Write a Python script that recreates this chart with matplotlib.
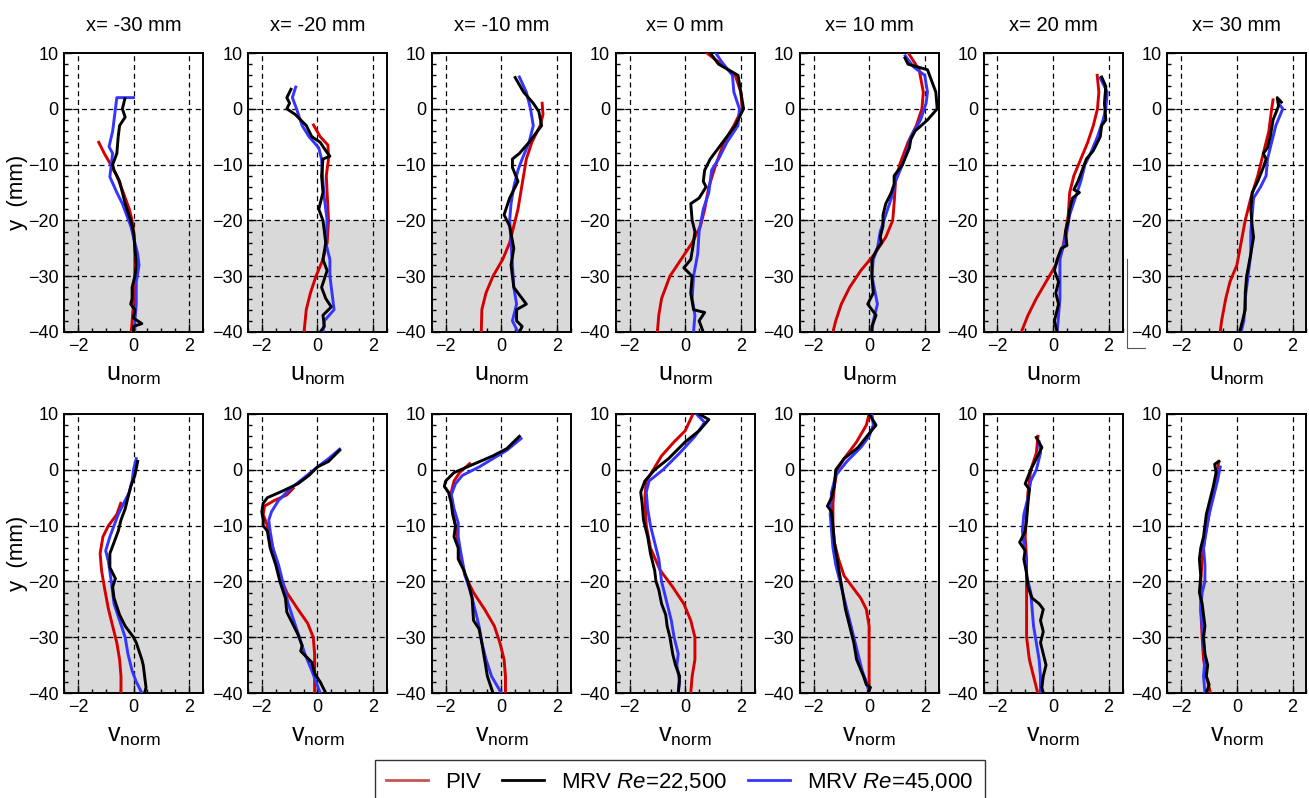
import numpy as np
import matplotlib.pyplot as plt
from matplotlib.lines import Line2D

plt.rcParams['font.family'] = ['Liberation Sans', 'DejaVu Sans']
plt.rcParams['mathtext.fontset'] = 'custom'
plt.rcParams['mathtext.rm'] = 'Liberation Sans'
plt.rcParams['mathtext.it'] = 'Liberation Sans:italic'
plt.rcParams['mathtext.default'] = 'regular'

# =============================================================================
# Profiles, as (value, y [mm]) pairs
# =============================================================================
stations = ['x= -30 mm', 'x= -20 mm', 'x= -10 mm', 'x= 0 mm', 'x= 10 mm', 'x= 20 mm', 'x= 30 mm']

# ---- u_norm ----
u_m30_piv = [(-1.25, -6), (-1.05, -8), (-0.82, -10), (-0.6, -12), (-0.37, -15), (-0.15, -18), (-0.05, -20),
             (0.03, -23), (0.05, -26), (0.05, -30), (0.0, -35), (-0.08, -40)]
u_m30_mrv1 = [(-0.31, 1.8), (-0.4, 0), (-0.3, -1.5), (-0.5, -3), (-0.55, -5), (-0.6, -8), (-0.75, -10), (-0.7, -11),
              (-0.5, -13), (-0.4, -15), (-0.3, -17), (-0.1, -20), (0.0, -22), (0.05, -25), (0.1, -28), (0.05, -30),
              (-0.05, -32), (-0.05, -34), (-0.1, -35), (0.05, -36), (0.0, -37.5), (0.3, -38.5), (0.0, -39), (0.0, -40)]
u_m30_mrv2 = [(0.0, 2), (-0.6, 2), (-0.65, 0), (-0.75, -4), (-0.88, -6.8), (-0.75, -8), (-0.8, -10), (-0.85, -12.2),
              (-0.6, -15), (-0.4, -17), (-0.25, -19), (-0.1, -21), (0.05, -24), (0.15, -26), (0.2, -28), (0.1, -31),
              (0.1, -35), (0.05, -38), (0.05, -40)]

u_m20_piv = [(-0.14, -2.9), (0.1, -5), (0.38, -6.5), (0.4, -9), (0.32, -12), (0.35, -15), (0.4, -20), (0.35, -24),
             (0.2, -27), (-0.05, -30), (-0.25, -33), (-0.4, -36), (-0.48, -40)]
u_m20_mrv1 = [(-0.95, 3.5), (-1.1, 2), (-1.0, 1), (-1.1, 0), (-0.8, -1), (-0.4, -3), (-0.2, -5), (0.1, -6), (0.3, -7.5),
              (0.45, -8.5), (0.2, -9), (0.15, -12), (0.2, -15), (0.05, -18), (0.2, -20), (0.3, -24), (0.2, -27),
              (0.35, -29), (0.15, -32), (0.3, -34), (0.5, -35.5), (0.2, -37), (0.25, -39), (0.1, -40)]
u_m20_mrv2 = [(-0.78, 3.9), (-0.9, 2), (-0.75, 0), (-0.55, -3), (-0.3, -5), (0.05, -7), (0.15, -9), (0.2, -13),
              (0.25, -16), (0.35, -20), (0.3, -24), (0.45, -27), (0.45, -30), (0.5, -32), (0.6, -36), (0.25, -38),
              (0.2, -40)]

u_m10_piv = [(1.47, 1), (1.5, -1), (1.4, -3), (1.1, -6), (0.9, -9), (0.8, -12), (0.7, -15), (0.6, -18), (0.45, -21),
             (0.3, -24), (0.05, -27), (-0.3, -30), (-0.55, -33), (-0.7, -36), (-0.72, -40)]
u_m10_mrv1 = [(0.5, 5.6), (0.8, 3), (1.15, 1), (1.35, -0.5), (1.45, -3), (1.0, -6), (0.65, -8), (0.4, -9), (0.4, -10.5),
              (0.6, -13), (0.3, -16), (0.1, -19), (0.3, -21), (0.45, -25), (0.35, -28), (0.45, -32), (0.9, -35),
              (0.55, -36), (0.55, -38), (0.75, -39), (0.65, -40)]
u_m10_mrv2 = [(0.65, 5.7), (0.9, 3), (1.05, 0), (1.15, -3), (1.0, -6), (0.75, -9), (0.6, -11), (0.45, -14),
              (0.35, -17), (0.3, -20), (0.35, -24), (0.4, -28), (0.45, -32), (0.55, -35), (0.4, -38), (0.6, -40)]

u_0_piv = [(0.78, 10), (1.3, 8), (1.8, 6), (2.0, 3), (2.05, 0), (1.75, -3), (1.4, -6), (1.1, -10), (0.85, -14),
           (0.7, -18), (0.55, -21), (0.25, -24), (-0.15, -27), (-0.55, -30), (-0.85, -34), (-0.95, -37), (-1.0, -40)]
u_0_mrv1 = [(0.9, 10), (1.2, 8), (1.9, 6), (2.0, 3), (2.1, 0), (1.8, -3), (1.5, -5), (1.2, -7), (0.9, -9), (0.7, -11),
            (0.65, -13), (0.75, -14), (0.5, -16), (0.2, -17), (0.25, -20), (0.35, -22), (0.3, -24), (0.2, -27),
            (-0.05, -28.5), (0.25, -30), (0.2, -33), (0.3, -36), (0.7, -36.5), (0.5, -38), (0.65, -40)]
u_0_mrv2 = [(1.1, 10), (1.3, 8.5), (1.7, 6), (1.75, 3), (1.95, 0), (1.9, -3), (1.5, -6), (1.2, -9), (0.95, -11),
            (0.85, -15), (0.65, -18), (0.5, -22), (0.45, -26), (0.3, -30), (0.25, -34), (0.35, -37), (0.3, -40)]

u_10_piv = [(1.41, 10), (1.8, 7), (1.95, 3), (1.9, 0), (1.7, -3), (1.4, -6), (1.1, -10), (0.95, -13), (0.9, -17),
            (0.85, -20), (0.6, -23), (0.2, -26), (-0.3, -29), (-0.7, -32), (-1.0, -35), (-1.2, -38), (-1.3, -40)]
u_10_mrv1 = [(1.29, 9.1), (1.4, 8), (2.1, 7), (2.4, 3), (2.45, 0), (2.1, -2), (1.65, -4), (1.5, -5.5), (1.45, -7),
             (1.2, -10), (0.9, -12), (0.9, -13.5), (0.8, -15), (0.6, -17), (0.5, -19), (0.5, -21), (0.4, -23),
             (0.45, -24), (0.3, -25), (0.1, -27), (0.1, -30), (0.15, -33), (-0.05, -35), (0.25, -37), (0.1, -39),
             (0.1, -40)]
u_10_mrv2 = [(1.3, 9.5), (1.6, 7.5), (2.0, 6), (2.1, 3), (2.05, 1), (1.85, -2), (1.5, -5), (1.4, -7), (1.2, -10),
             (0.95, -13), (0.8, -16), (0.6, -19), (0.4, -22), (0.3, -25), (0.15, -27), (0.1, -30), (0.3, -35),
             (0.15, -38), (0.1, -40)]

u_20_piv = [(1.59, 6), (1.65, 3), (1.6, 0), (1.45, -3), (1.25, -6), (1.0, -9), (0.75, -12), (0.6, -15), (0.55, -19),
            (0.45, -22), (0.35, -25), (0.1, -28), (-0.25, -31), (-0.6, -34), (-0.9, -37), (-1.14, -40)]
u_20_mrv1 = [(1.75, 5.7), (1.9, 4), (1.85, 1), (1.9, -2), (1.75, -3), (1.7, -5), (1.55, -6.5), (1.45, -7.5),
             (1.2, -9), (1.05, -11), (0.9, -13), (0.75, -14.5), (0.95, -15), (0.7, -16), (0.6, -18), (0.55, -20),
             (0.45, -22), (0.5, -24.5), (0.3, -25), (0.15, -27), (0.05, -29), (0.2, -31), (0.1, -33), (0.2, -35),
             (0.05, -38), (0.15, -40)]
u_20_mrv2 = [(1.7, 5.5), (1.95, 3), (1.9, 0), (1.8, -2), (1.6, -5), (1.35, -8), (1.15, -10), (1.0, -13), (0.8, -16),
             (0.6, -19), (0.5, -22), (0.35, -25), (0.25, -27), (0.25, -30), (0.25, -34), (0.2, -37), (0.15, -40)]

u_30_piv = [(1.3, 1.6), (1.25, 0), (1.15, -4), (0.95, -8), (0.75, -12), (0.5, -16), (0.3, -20), (0.15, -24),
            (0.0, -28), (-0.25, -31), (-0.4, -34), (-0.55, -38), (-0.6, -40)]
u_30_mrv1 = [(1.6, 1.2), (1.45, 2), (1.5, 0.5), (1.3, -2), (1.2, -5), (1.1, -7), (0.95, -8), (1.05, -9),
             (0.95, -10.5), (0.75, -13), (0.55, -15), (0.5, -18), (0.55, -21), (0.6, -23), (0.5, -26), (0.35, -30),
             (0.3, -33), (0.3, -36), (0.2, -38), (0.1, -40)]
u_30_mrv2 = [(1.5, 1), (1.65, 0), (1.4, -3), (1.2, -7), (1.1, -9), (1.05, -12), (0.85, -14), (0.6, -16), (0.55, -19),
             (0.5, -22), (0.5, -26), (0.4, -30), (0.3, -34), (0.25, -38), (0.15, -40)]

# ---- v_norm ----
v_m30_piv = [(-0.46, -6), (-0.6, -8), (-0.9, -10), (-1.1, -12), (-1.2, -15), (-1.15, -18), (-1.05, -21), (-0.9, -25),
             (-0.75, -28), (-0.6, -31), (-0.5, -34), (-0.45, -37), (-0.45, -40)]
v_m30_mrv1 = [(0.15, 1.5), (0.05, -1), (-0.1, -3), (-0.2, -5), (-0.3, -7), (-0.45, -9), (-0.55, -11), (-0.7, -13),
              (-0.85, -15), (-0.85, -17.5), (-0.65, -19.5), (-0.75, -21), (-0.7, -23), (-0.5, -26), (-0.3, -28),
              (0.0, -30), (0.1, -31), (0.3, -34), (0.35, -35), (0.4, -37), (0.45, -39), (0.4, -40)]
v_m30_mrv2 = [(0.1, 2), (0.0, 0), (-0.05, -2), (-0.15, -4), (-0.35, -6), (-0.55, -8), (-0.7, -10), (-0.85, -12),
              (-1.0, -14.5), (-0.9, -16.5), (-0.8, -20), (-0.7, -24), (-0.5, -27), (-0.3, -30), (-0.2, -33),
              (-0.05, -36), (0.1, -38), (0.3, -40)]

v_m20_piv = [(-0.87, -3.3), (-1.1, -4.5), (-1.55, -5.5), (-1.9, -6.5), (-1.95, -8), (-1.8, -10), (-1.65, -13),
             (-1.5, -16), (-1.35, -19), (-1.1, -22), (-0.7, -25), (-0.35, -27.5), (-0.15, -30), (-0.1, -33),
             (-0.1, -37), (-0.1, -40)]
v_m20_mrv1 = [(0.8, 3.5), (0.4, 1.5), (0.0, 0.5), (-0.3, -1), (-0.7, -2.5), (-1.25, -3.8), (-1.8, -5), (-1.95, -6),
              (-2.0, -7.5), (-1.95, -9), (-1.95, -10), (-1.8, -11), (-1.7, -14), (-1.5, -17), (-1.35, -20),
              (-1.15, -23), (-1.1, -25.5), (-0.9, -27.5), (-0.7, -29.5), (-0.55, -31.5), (-0.6, -32.5), (-0.4, -33.5),
              (-0.2, -34.5), (-0.1, -36.5), (0.1, -38), (0.3, -40)]
v_m20_mrv2 = [(0.8, 3.7), (0.4, 2), (0.0, 0.5), (-0.5, -1.5), (-1.0, -3.5), (-1.4, -5.5), (-1.65, -7.5), (-1.75, -9),
              (-1.7, -11), (-1.6, -14), (-1.4, -17), (-1.25, -20), (-1.05, -24), (-0.85, -27), (-0.65, -30),
              (-0.45, -33), (-0.2, -36), (0.1, -40)]

v_m10_piv = [(-1.14, 1.1), (-1.5, -0.5), (-1.7, -2), (-1.8, -4), (-1.75, -7), (-1.65, -10), (-1.55, -13),
             (-1.45, -16), (-1.3, -19), (-1.0, -22), (-0.6, -25), (-0.25, -28), (-0.05, -31), (0.1, -34),
             (0.15, -37), (0.15, -40)]
v_m10_mrv1 = [(0.65, 6), (0.2, 3.8), (-0.3, 2.5), (-1.0, 1), (-1.7, -0.5), (-2.0, -2), (-2.05, -3), (-1.9, -4),
              (-1.8, -6), (-1.75, -8), (-1.65, -10), (-1.7, -12), (-1.55, -14), (-1.55, -16), (-1.35, -18),
              (-1.2, -20), (-1.05, -23), (-1.0, -27), (-0.8, -28.5), (-0.7, -31), (-0.6, -34), (-0.5, -37),
              (-0.3, -40)]
v_m10_mrv2 = [(0.71, 5.6), (0.2, 3.5), (-0.3, 2), (-0.8, 0.5), (-1.4, -1), (-1.65, -2.5), (-1.8, -4.5), (-1.7, -7),
              (-1.55, -9.5), (-1.55, -12), (-1.45, -15), (-1.3, -19), (-1.1, -22), (-0.95, -25), (-0.8, -28),
              (-0.7, -31), (-0.55, -34), (-0.35, -37), (0.0, -40)]

v_0_piv = [(0.28, 10), (0.0, 7), (-0.4, 5), (-0.85, 2.5), (-1.15, 0), (-1.4, -2), (-1.45, -5), (-1.4, -10),
           (-1.25, -14), (-0.9, -18), (-0.45, -21), (-0.05, -24), (0.2, -27), (0.35, -30), (0.35, -34), (0.25, -37),
           (0.2, -40)]
v_0_mrv1 = [(0.5, 10), (0.85, 9), (0.5, 7), (0.0, 5), (-0.6, 2), (-1.1, 0), (-1.45, -2), (-1.6, -4), (-1.55, -6),
            (-1.5, -9), (-1.35, -12), (-1.25, -15), (-1.1, -18), (-1.05, -20), (-0.95, -21.5), (-0.85, -24),
            (-0.7, -26), (-0.65, -28), (-0.55, -30), (-0.45, -33), (-0.35, -35), (-0.2, -37), (-0.25, -40)]
v_0_mrv2 = [(0.4, 10), (0.7, 8.5), (0.35, 6), (-0.2, 3), (-0.8, 0), (-1.3, -2), (-1.4, -4), (-1.35, -7), (-1.25, -10),
            (-1.1, -13), (-0.95, -16), (-0.85, -20), (-0.7, -23), (-0.5, -27), (-0.4, -30), (-0.25, -33), (-0.3, -35),
            (-0.2, -38), (-0.25, -40)]

v_10_piv = [(0.0, 10), (-0.1, 8), (-0.45, 5), (-0.9, 2), (-1.15, 0), (-1.25, -3), (-1.3, -6), (-1.3, -10),
            (-1.25, -13), (-1.1, -16), (-0.9, -19), (-0.6, -21), (-0.3, -23), (-0.1, -25), (0.0, -28), (0.0, -32),
            (0.0, -36), (0.0, -40)]
v_10_mrv1 = [(0.0, 10), (0.25, 8), (0.0, 6.5), (-0.4, 4), (-0.9, 2), (-1.2, 0), (-1.25, -3), (-1.35, -5),
             (-1.5, -6.5), (-1.35, -7.5), (-1.3, -10), (-1.25, -13), (-1.15, -16), (-1.05, -19), (-0.95, -22),
             (-0.85, -25), (-0.7, -28), (-0.55, -31), (-0.45, -34), (-0.2, -37), (-0.1, -38.5), (0.05, -39),
             (-0.05, -40)]
v_10_mrv2 = [(0.1, 10), (0.15, 8), (0.0, 6), (-0.3, 4), (-0.8, 1.5), (-1.2, -1), (-1.35, -4), (-1.4, -8),
             (-1.35, -11), (-1.3, -14), (-1.2, -17), (-1.0, -21), (-0.8, -25), (-0.6, -29), (-0.4, -33),
             (-0.25, -36), (-0.1, -38), (0.0, -40)]

v_20_piv = [(-0.54, 6), (-0.6, 3), (-0.8, 0), (-0.9, -4), (-0.95, -8), (-1.0, -12), (-0.95, -16), (-0.95, -20),
            (-0.95, -25), (-0.95, -30), (-0.85, -34), (-0.7, -37), (-0.55, -40)]
v_20_mrv1 = [(-0.6, 5.8), (-0.4, 4), (-0.6, 2), (-0.8, 0), (-1.0, -2.5), (-0.85, -3.5), (-0.9, -6), (-0.95, -9),
             (-1.0, -11), (-1.2, -13), (-1.0, -14.5), (-1.05, -16), (-0.95, -18.5), (-0.9, -21), (-0.75, -23),
             (-0.5, -24), (-0.35, -25), (-0.45, -27), (-0.35, -29), (-0.45, -31), (-0.35, -33), (-0.25, -35),
             (-0.35, -37), (-0.4, -39), (-0.35, -40)]
v_20_mrv2 = [(-0.5, 5), (-0.45, 3), (-0.6, 0), (-0.8, -2), (-0.9, -5), (-1.05, -8), (-1.1, -11), (-1.0, -15),
             (-0.95, -19), (-0.8, -22), (-0.75, -25), (-0.7, -28), (-0.6, -31), (-0.5, -34), (-0.45, -37),
             (-0.45, -40)]

v_30_piv = [(-0.65, 1.5), (-0.7, 0), (-0.85, -4), (-1.0, -8), (-1.15, -12), (-1.25, -16), (-1.3, -20), (-1.3, -25),
            (-1.25, -30), (-1.2, -34), (-1.1, -37), (-0.95, -40)]
v_30_mrv1 = [(-0.65, 1.5), (-0.8, 1), (-0.75, -0.5), (-0.85, -3), (-1.0, -6), (-1.1, -8), (-1.15, -10), (-1.2, -12),
             (-1.3, -14), (-1.35, -16), (-1.3, -19), (-1.35, -22), (-1.25, -24), (-1.2, -26), (-1.15, -28),
             (-1.2, -30), (-1.15, -33), (-1.05, -35), (-1.1, -37), (-1.0, -38.5), (-1.1, -40)]
v_30_mrv2 = [(-0.6, 0.5), (-0.7, -2), (-0.85, -5), (-1.0, -8), (-1.1, -11), (-1.2, -14), (-1.15, -17), (-1.15, -20),
             (-1.25, -22), (-1.3, -25), (-1.25, -28), (-1.2, -31), (-1.15, -34), (-1.2, -37), (-1.15, -40)]

u_rows = [(u_m30_piv, u_m30_mrv1, u_m30_mrv2), (u_m20_piv, u_m20_mrv1, u_m20_mrv2),
          (u_m10_piv, u_m10_mrv1, u_m10_mrv2), (u_0_piv, u_0_mrv1, u_0_mrv2),
          (u_10_piv, u_10_mrv1, u_10_mrv2), (u_20_piv, u_20_mrv1, u_20_mrv2),
          (u_30_piv, u_30_mrv1, u_30_mrv2)]
v_rows = [(v_m30_piv, v_m30_mrv1, v_m30_mrv2), (v_m20_piv, v_m20_mrv1, v_m20_mrv2),
          (v_m10_piv, v_m10_mrv1, v_m10_mrv2), (v_0_piv, v_0_mrv1, v_0_mrv2),
          (v_10_piv, v_10_mrv1, v_10_mrv2), (v_20_piv, v_20_mrv1, v_20_mrv2),
          (v_30_piv, v_30_mrv1, v_30_mrv2)]

RED = '#d40000'
BLUE = '#3535ff'
BLACK = '#000000'

# =============================================================================
# Figure
# =============================================================================
W, H = 1309, 798
fig = plt.figure(figsize=(W / 100, H / 100), dpi=100)

ax_w, ax_h = 139, 279
row_tops = [53, 414]


def style_axis(ax):
    ax.set_xlim(-2.5, 2.5)
    ax.set_ylim(-40, 10)
    ax.axhspan(-40, -20, color='#d9d9d9', zorder=0, lw=0)
    ax.set_xticks([-2, 0, 2])
    ax.set_yticks([-40, -30, -20, -10, 0, 10])
    ax.set_xticks(np.arange(-2.5, 2.51, 0.5), minor=True)
    ax.set_yticks(np.arange(-40, 10.1, 2), minor=True)
    ax.tick_params(which='both', direction='in', labelsize=13, width=1.0, color='black')
    ax.tick_params(which='major', length=6, pad=4)
    ax.tick_params(which='minor', length=3)
    for s in ax.spines.values():
        s.set_linewidth(1.4)
    for xv in [-2, 0, 2]:
        ax.axvline(xv, color='black', lw=0.9, ls=(0, (4, 3)), zorder=1)
    for yv in [-30, -20, -10, 0]:
        ax.axhline(yv, color='black', lw=0.9, ls=(0, (4, 3)), zorder=1)


for r, (rows, lbl) in enumerate([(u_rows, 'u$_{norm}$'), (v_rows, 'v$_{norm}$')]):
    for i, (piv, mrv1, mrv2) in enumerate(rows):
        left = 64 + 183.9 * i
        top = row_tops[r]
        ax = fig.add_axes([left / W, 1 - (top + ax_h) / H, ax_w / W, ax_h / H])
        style_axis(ax)
        for data, col, z in [(piv, RED, 3), (mrv2, BLUE, 4), (mrv1, BLACK, 5)]:
            arr = np.array(data)
            ax.plot(arr[:, 0], arr[:, 1], color=col, lw=2.1, zorder=z, solid_joinstyle='round')
        ax.set_xlabel(lbl, fontsize=18, labelpad=6)
        if r == 0:
            ax.set_title(stations[i], fontsize=14.5, pad=16)
        if i == 0:
            ax.set_ylabel('y  (mm)', fontsize=16, labelpad=0)

# stray bracket mark near the x=20 mm panel
fig.add_artist(Line2D([1127 / W, 1127 / W, 1145 / W], [1 - 259 / H, 1 - 348 / H, 1 - 348 / H],
                      color='#555555', lw=0.8))

handles = [Line2D([], [], color='#c85555', lw=2.0),
           Line2D([], [], color=BLACK, lw=2.0),
           Line2D([], [], color=BLUE, lw=2.0)]
labels = ['PIV', 'MRV $\\it{Re}$=22,500', 'MRV $\\it{Re}$=45,000']
leg = fig.legend(handles, labels, loc='upper left', bbox_to_anchor=(375 / W, 1 - 760 / H),
                 ncol=3, fontsize=16, frameon=True, fancybox=False, edgecolor='black',
                 handlelength=1.9, handletextpad=0.75, columnspacing=0.95, borderpad=0.5,
                 borderaxespad=0)
leg.get_frame().set_linewidth(1.0)

fig.savefig('out.png', dpi=100)
